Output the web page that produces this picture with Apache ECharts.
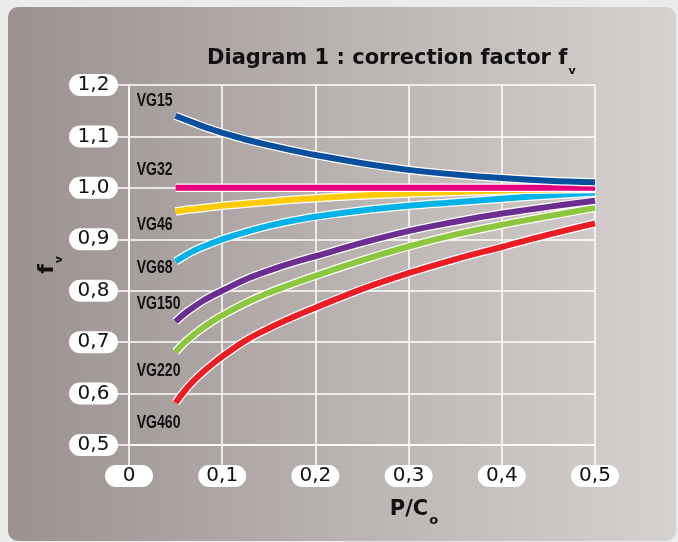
<!DOCTYPE html>
<html><head><meta charset="utf-8">
<script src="https://cdn.jsdelivr.net/npm/echarts@6/dist/echarts.min.js"></script>
<style>html,body{margin:0;padding:0;background:#ebebeb}#c{width:678px;height:542px}</style>
</head><body><div id="c"></div>
<script>
// ---- data ----
const xValues = [0.05, 0.06, 0.07, 0.08, 0.09, 0.1, 0.125, 0.15, 0.175, 0.2, 0.25, 0.3, 0.35, 0.4, 0.45, 0.5];
const seriesNames = ['VG15', 'VG32', 'VG46', 'VG68', 'VG150', 'VG220', 'VG460'];
const vg15  = [1.140, 1.133, 1.126, 1.119, 1.113, 1.107, 1.094, 1.083, 1.073, 1.064, 1.048, 1.035, 1.026, 1.019, 1.014, 1.011];
const vg32  = [1.000, 1.000, 1.000, 1.000, 1.000, 1.000, 1.000, 1.000, 1.000, 1.000, 1.000, 1.000, 1.000, 1.000, 1.000, 1.000];
const vg46  = [0.954, 0.957, 0.959, 0.961, 0.963, 0.965, 0.969, 0.973, 0.977, 0.980, 0.985, 0.989, 0.992, 0.995, 0.997, 0.998];
const vg68  = [0.857, 0.868, 0.878, 0.886, 0.893, 0.900, 0.914, 0.926, 0.936, 0.944, 0.956, 0.965, 0.972, 0.979, 0.985, 0.991];
const vg150 = [0.740, 0.756, 0.769, 0.781, 0.791, 0.800, 0.822, 0.839, 0.854, 0.867, 0.893, 0.916, 0.934, 0.950, 0.963, 0.975];
const vg220 = [0.681, 0.700, 0.715, 0.729, 0.741, 0.752, 0.776, 0.796, 0.813, 0.829, 0.859, 0.886, 0.909, 0.928, 0.945, 0.961];
const vg460 = [0.582, 0.606, 0.626, 0.643, 0.658, 0.672, 0.703, 0.727, 0.748, 0.767, 0.803, 0.834, 0.861, 0.885, 0.909, 0.931];
const labelValues = [1.168, 1.035, 0.928, 0.844, 0.775, 0.644, 0.542];
const labelXValue = 0.0083;
const xTickLabels = ['0', '0,1', '0,2', '0,3', '0,4', '0,5'];
const yTickLabels = ['0,5', '0,6', '0,7', '0,8', '0,9', '1,0', '1,1', '1,2'];

// ---- styles ----
const colors = ['#0a4f9e', '#e6007e', '#ffcb05', '#00b2e8', '#6b2d90', '#8dc63f', '#ec1c24'];
const allValues = [vg15, vg32, vg46, vg68, vg150, vg220, vg460];
const BOLD = '"DejaVu Sans", sans-serif';

const series = [];
for (let i = allValues.length - 1; i >= 0; i--) {
  const pts = xValues.map((x, k) => [x, allValues[i][k]]);
  series.push({
    type: 'line', data: pts, smooth: 0.4, symbol: 'none', silent: true,
    lineStyle: { color: '#ffffff', width: 8.5, cap: 'butt' }, z: 3 + (6 - i) * 2
  });
  series.push({
    name: seriesNames[i], type: 'line', data: pts, smooth: 0.4, symbol: 'none', silent: true,
    lineStyle: { color: colors[i], width: 6, cap: 'butt' }, z: 4 + (6 - i) * 2
  });
}

const pill = {
  backgroundColor: '#ffffff', borderRadius: 11, width: 48, height: 22, lineHeight: 22,
  align: 'center', fontSize: 20, color: '#111', fontFamily: '"DejaVu Sans", sans-serif'
};
const subRich = (big, small, pad) => ({
  a: { fontSize: big, fontWeight: 'bold', color: '#111', fontFamily: BOLD, lineHeight: 26, verticalAlign: 'top' },
  b: { fontSize: small, fontWeight: 'bold', color: '#111', fontFamily: BOLD, lineHeight: 12, padding: [pad, 0, 0, 1], verticalAlign: 'top' }
});

const chart = echarts.init(document.getElementById('c'));
chart.setOption({
  backgroundColor: '#ebebeb',
  animation: false,
  graphic: [{
    id: 'bg', type: 'rect', z: -100, silent: true,
    shape: { x: 8, y: 7, width: 668, height: 534, r: 10 },
    style: {
      fill: new echarts.graphic.LinearGradient(0, 0, 1, 0, [
        { offset: 0, color: '#9b9290' }, { offset: 1, color: '#d6d2d0' }
      ])
    }
  }],
  title: {
    text: '{a|Diagram 1 : correction factor f}{b|v}',
    left: 202, top: 43,
    textStyle: { rich: subRich(21, 11, 18) }
  },
  grid: { left: 129, right: 83, top: 85, bottom: 97 },
  xAxis: {
    type: 'value', min: 0, max: 0.5, interval: 0.1,
    name: '{a|P/C}{b|o}', nameLocation: 'middle', nameGap: 54, nameMoveOverlap: false,
    nameTextStyle: { padding: [0, 0, 0, 104], rich: subRich(21, 13, 15) },
    axisLine: { lineStyle: { color: '#ffffff', width: 1.5 } },
    axisTick: { show: true, length: 20, lineStyle: { color: '#ffffff', width: 1.5 } },
    splitLine: { show: true, lineStyle: { color: '#ffffff', width: 1.5 } },
    axisLabel: {
      margin: 20,
      formatter: v => '{p|' + xTickLabels[Math.round(v * 10)] + '}',
      rich: { p: pill }
    }
  },
  yAxis: {
    type: 'value', min: 0.5, max: 1.2, interval: 0.1,
    name: '{a|f}{b|v}', nameLocation: 'middle', nameGap: 67, nameRotate: 90, nameMoveOverlap: false,
    nameTextStyle: { rich: subRich(22, 11, 18) },
    axisLine: { show: true, lineStyle: { color: '#ffffff', width: 1.5 } },
    axisTick: { show: true, length: 11, lineStyle: { color: '#ffffff', width: 1.5 } },
    splitLine: { show: true, lineStyle: { color: '#ffffff', width: 1.5 } },
    axisLabel: {
      margin: 11,
      formatter: v => '{p|' + yTickLabels[Math.round(v * 10) - 5] + '}',
      rich: { p: Object.assign({}, pill, { width: 49 }) }
    }
  },
  series: series
});

// condensed curve labels, placed through the chart's own coordinate conversion
const labelGraphics = seriesNames.map((n, i) => {
  const p = chart.convertToPixel({ gridIndex: 0 }, [labelXValue, labelValues[i]]);
  return {
    id: 'lbl' + i, type: 'text', x: p[0], y: p[1], scaleX: 0.78, z: 50, silent: true,
    style: { text: n, font: 'bold 18px "Liberation Sans", Arial, sans-serif', fill: '#111', align: 'left', verticalAlign: 'middle' }
  };
});
chart.setOption({ graphic: labelGraphics });
</script></body></html>
